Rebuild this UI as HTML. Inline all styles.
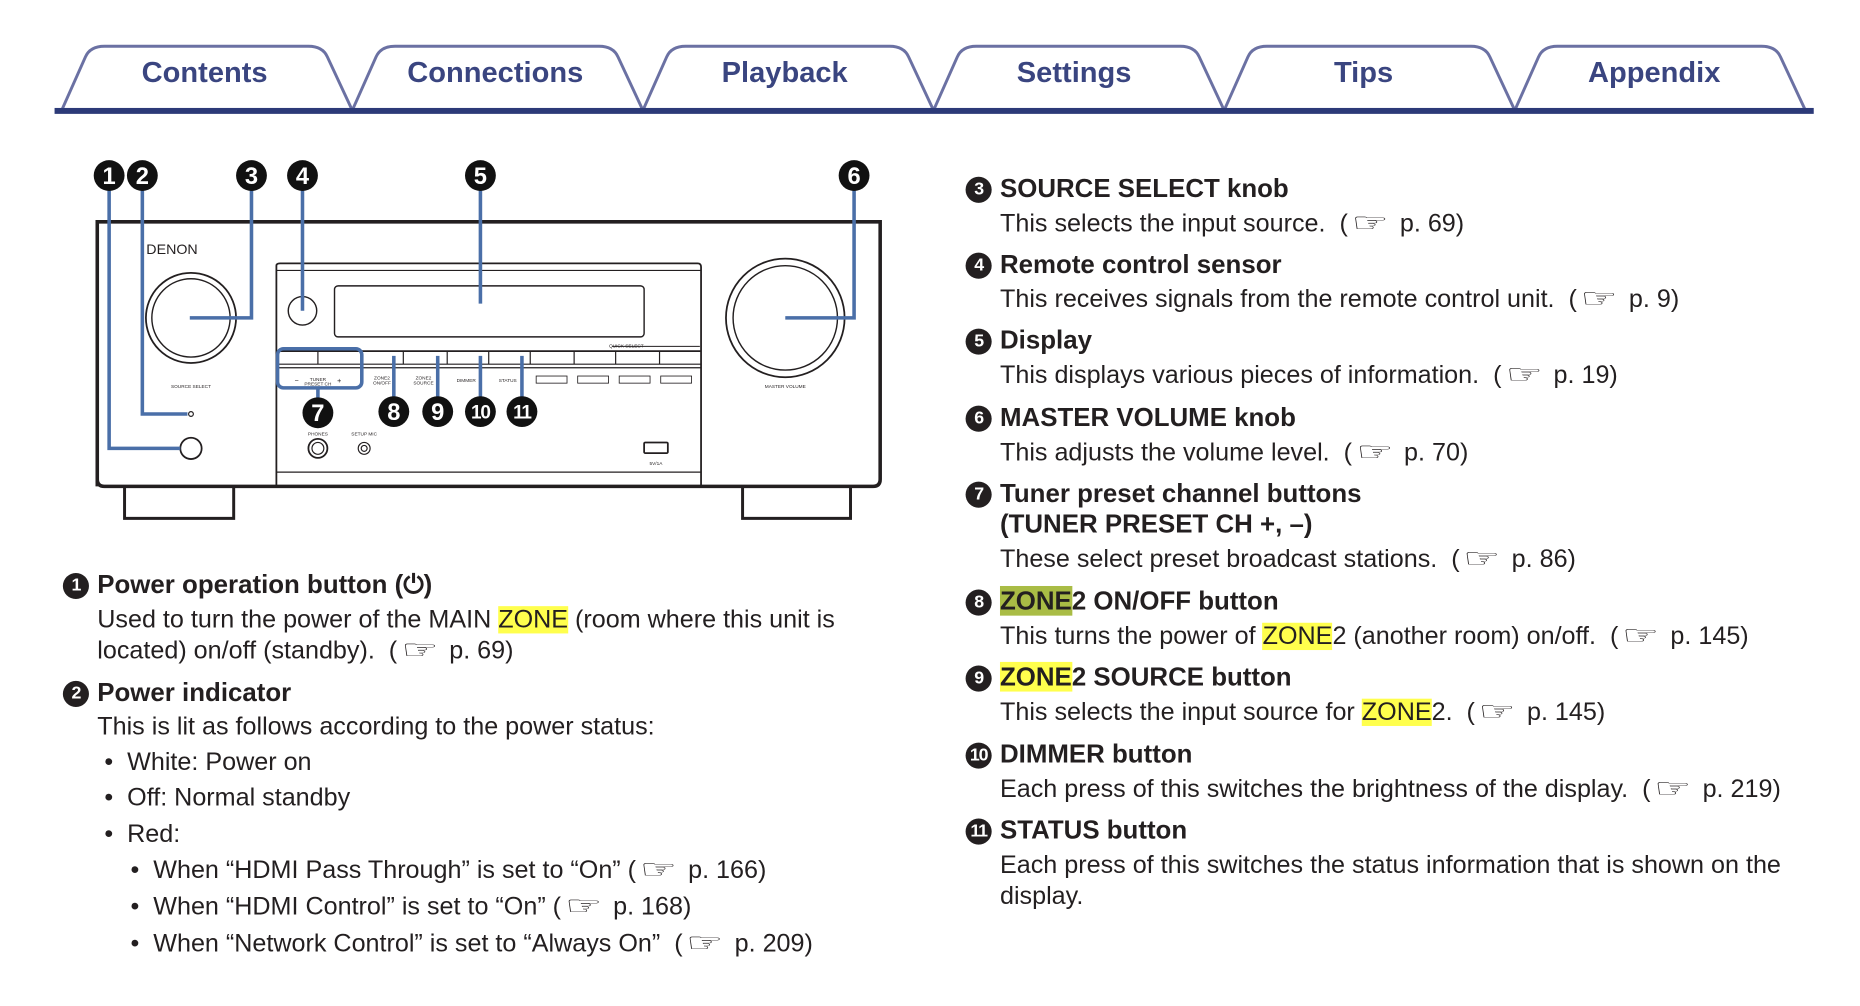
<!DOCTYPE html>
<html><head><meta charset="utf-8"><style>
html,body{margin:0;padding:0;background:#fff;width:1860px;height:1006px;overflow:hidden}
#w{position:absolute;left:0;top:0;width:1568px;height:848px;transform:scale(1.18622);transform-origin:0 0;font-family:"Liberation Sans",Arial,sans-serif;color:#231f20}
.t{position:absolute;white-space:nowrap;line-height:24px}
.h{font-weight:bold;font-size:21.8px}
.b{font-size:21.2px}
.n{position:absolute;width:22px;height:22px;border-radius:50%;background:#231f20;color:#fff;font-size:15px;font-weight:bold;line-height:22px;text-align:center;font-family:"Liberation Sans Narrow","Liberation Sans",sans-serif;letter-spacing:-1px}
.y{background:#ffff4d}
.g{background:#a9bc45}
.tab{position:absolute;top:48px;font-size:24.5px;font-weight:bold;color:#3a4580;width:245px;text-align:center}
.hand{font-family:"DejaVu Sans",sans-serif;font-size:22px;display:inline-block;width:38px;text-align:center;transform:scaleX(1.6);line-height:20px}
</style></head><body><div id="w">
<svg width="1568" height="848" style="position:absolute;left:0;top:0">
<g fill="none" stroke="#6b71a3" stroke-width="2.5">
<path d="M52 93 L72 48 Q76 39 88 39 L260 39 Q272 39 276 48 L297 93"/>
<path d="M297 93 L317 48 Q321 39 333 39 L505 39 Q517 39 521 48 L542 93"/>
<path d="M542 93 L562 48 Q566 39 578 39 L750 39 Q762 39 766 48 L787 93"/>
<path d="M787 93 L807 48 Q811 39 823 39 L995 39 Q1007 39 1011 48 L1032 93"/>
<path d="M1032 93 L1052 48 Q1056 39 1068 39 L1240 39 Q1252 39 1256 48 L1277 93"/>
<path d="M1277 93 L1297 48 Q1301 39 1313 39 L1485 39 Q1497 39 1501 48 L1522 93"/>
</g>
<rect x="46" y="91" width="1483" height="5" fill="#2c3a78"/>
<g fill="none" stroke="#231f20">
<path d="M82 410 L82 187 L742 187 L742 404 Q742 410 736 410 L88 410 Q82 410 82 404" stroke-width="3"/>
<path d="M105 410 V437 H197 V410 M626 410 V437 H717 V410" stroke-width="2.5"/>
<path d="M233 410 V224 Q233 222 236 222 L588 222 Q591 222 591 225 V410" stroke-width="1.5"/>
<line x1="233" y1="228" x2="591" y2="228" stroke-width="1"/>
<line x1="233" y1="398" x2="591" y2="398" stroke-width="1"/>
<circle cx="161" cy="268" r="38" stroke-width="1.5"/><circle cx="161" cy="268" r="33" stroke-width="1.2"/>
<circle cx="662" cy="268" r="50" stroke-width="1.5"/><circle cx="662" cy="268" r="44" stroke-width="1.2"/>
<rect x="282" y="241" width="261" height="43" rx="3" stroke-width="1.2"/>
<circle cx="255" cy="262" r="12" stroke-width="1.2"/>
<line x1="233" y1="296" x2="591" y2="296" stroke-width="1.5"/>
<line x1="233" y1="307" x2="591" y2="307" stroke-width="1"/>
<line x1="233" y1="310" x2="591" y2="310" stroke-width="1"/>
<line x1="516" y1="292" x2="590" y2="292" stroke-width="0.8"/>
<path d="M268 296V307M305 296V307M340 296V307M377 296V307M412 296V307M447 296V307M484 296V307M519 296V307M556 296V307" stroke-width="1"/>
<rect x="452" y="317" width="26" height="6" stroke-width="0.7"/><rect x="487" y="317" width="26" height="6" stroke-width="0.7"/><rect x="522" y="317" width="26" height="6" stroke-width="0.7"/><rect x="557" y="317" width="26" height="6" stroke-width="0.7"/>
<circle cx="161" cy="378" r="9" stroke-width="1.5"/>
<circle cx="161" cy="349" r="2" stroke-width="1"/>
<circle cx="268" cy="378" r="8" stroke-width="1.5"/><circle cx="268" cy="378" r="5" stroke-width="1"/>
<circle cx="307" cy="378" r="5" stroke-width="1"/><circle cx="307" cy="378" r="2.5" stroke-width="1"/>
<rect x="543" y="373" width="20" height="9" rx="1" stroke-width="1.5"/>
</g>
<g font-family="Liberation Sans" font-size="4" fill="#231f20" text-anchor="middle">
<text x="161" y="327">SOURCE SELECT</text><text x="662" y="327">MASTER VOLUME</text>
<text x="268" y="321">TUNER</text><text x="268" y="325">PRESET CH</text><text x="250" y="323" font-size="6">−</text><text x="286" y="323" font-size="6">+</text>
<text x="322" y="320">ZONE2</text><text x="322" y="324">ON/OFF</text><text x="357" y="320">ZONE2</text><text x="357" y="324">SOURCE</text>
<text x="393" y="322">DIMMER</text><text x="428" y="322">STATUS</text><text x="528" y="293">QUICK SELECT</text>
<text x="268" y="367">PHONES</text><text x="307" y="367">SETUP MIC</text><text x="553" y="392">5V/1A</text>
<text x="145" y="214" font-size="12" text-anchor="middle">DENON</text>
</g>
<g fill="none" stroke="#4a6fa8" stroke-width="3">
<path d="M92 160 V378 H152"/><path d="M120 160 V349 H158"/><path d="M212 160 V268 H160"/>
<path d="M255 160 V262"/><path d="M405 160 V256"/><path d="M720 160 V268 H662"/>
<rect x="234" y="294" width="71" height="33" rx="5"/>
<path d="M268 327V336M332 300V336M369 300V336M405 300V336M440 300V336"/>
</g>
<g font-family="Liberation Sans" font-weight="bold" fill="#fff" text-anchor="middle" font-size="20">
<circle cx="92" cy="148" r="13" fill="#111"/><text x="92" y="155">1</text>
<circle cx="120" cy="148" r="13" fill="#111"/><text x="120" y="155">2</text>
<circle cx="212" cy="148" r="13" fill="#111"/><text x="212" y="155">3</text>
<circle cx="255" cy="148" r="13" fill="#111"/><text x="255" y="155">4</text>
<circle cx="405" cy="148" r="13" fill="#111"/><text x="405" y="155">5</text>
<circle cx="720" cy="148" r="13" fill="#111"/><text x="720" y="155">6</text>
<circle cx="268" cy="348" r="13" fill="#111"/><text x="268" y="355">7</text>
<circle cx="332" cy="347" r="13" fill="#111"/><text x="332" y="354">8</text>
<circle cx="369" cy="347" r="13" fill="#111"/><text x="369" y="354">9</text>
<circle cx="405" cy="347" r="13" fill="#111"/><text x="405" y="353" font-size="16" letter-spacing="-1">10</text>
<circle cx="440" cy="347" r="13" fill="#111"/><text x="440" y="353" font-size="16" letter-spacing="-1">11</text>
</g>
</svg>
<div class="tab" style="left:50px">Contents</div><div class="tab" style="left:295px">Connections</div><div class="tab" style="left:539px">Playback</div><div class="tab" style="left:783px">Settings</div><div class="tab" style="left:1027px">Tips</div><div class="tab" style="left:1272px">Appendix</div>

<div class="n" style="left:53px;top:483px">1</div><div class="t h" style="left:82px;top:481px">Power operation button (⏻)</div>
<div class="t b" style="left:82px;top:511px">Used to turn the power of the MAIN <span class="y">ZONE</span> (room where this unit is</div>
<div class="t b" style="left:82px;top:537px">located) on/off (standby).&nbsp; (<span class="hand">☞</span> p. 69)</div>
<div class="n" style="left:53px;top:574px">2</div><div class="t h" style="left:82px;top:572px">Power indicator</div>
<div class="t b" style="left:82px;top:601px">This is lit as follows according to the power status:</div>
<div class="t b" style="left:88px;top:631px">•&nbsp; White: Power on</div>
<div class="t b" style="left:88px;top:661px">•&nbsp; Off: Normal standby</div>
<div class="t b" style="left:88px;top:692px">•&nbsp; Red:</div>
<div class="t b" style="left:110px;top:722px">•&nbsp; When “HDMI Pass Through” is set to “On” (<span class="hand">☞</span> p. 166)</div>
<div class="t b" style="left:110px;top:753px">•&nbsp; When “HDMI Control” is set to “On” (<span class="hand">☞</span> p. 168)</div>
<div class="t b" style="left:110px;top:784px">•&nbsp; When “Network Control” is set to “Always On”&nbsp; (<span class="hand">☞</span> p. 209)</div>

<div class="n" style="left:814px;top:149px">3</div><div class="t h" style="left:843px;top:147px">SOURCE SELECT knob</div>
<div class="t b" style="left:843px;top:177px">This selects the input source.&nbsp; (<span class="hand">☞</span> p. 69)</div>
<div class="n" style="left:814px;top:213px">4</div><div class="t h" style="left:843px;top:211px">Remote control sensor</div>
<div class="t b" style="left:843px;top:241px">This receives signals from the remote control unit.&nbsp; (<span class="hand">☞</span> p. 9)</div>
<div class="n" style="left:814px;top:277px">5</div><div class="t h" style="left:843px;top:275px">Display</div>
<div class="t b" style="left:843px;top:305px">This displays various pieces of information.&nbsp; (<span class="hand">☞</span> p. 19)</div>
<div class="n" style="left:814px;top:342px">6</div><div class="t h" style="left:843px;top:340px">MASTER VOLUME knob</div>
<div class="t b" style="left:843px;top:370px">This adjusts the volume level.&nbsp; (<span class="hand">☞</span> p. 70)</div>
<div class="n" style="left:814px;top:406px">7</div><div class="t h" style="left:843px;top:404px">Tuner preset channel buttons</div>
<div class="t h" style="left:843px;top:430px">(TUNER PRESET CH +, –)</div>
<div class="t b" style="left:843px;top:460px">These select preset broadcast stations.&nbsp; (<span class="hand">☞</span> p. 86)</div>
<div class="n" style="left:814px;top:497px">8</div><div class="t h" style="left:843px;top:495px"><span class="g">ZONE</span>2 ON/OFF button</div>
<div class="t b" style="left:843px;top:525px">This turns the power of <span class="y">ZONE</span>2 (another room) on/off.&nbsp; (<span class="hand">☞</span> p. 145)</div>
<div class="n" style="left:814px;top:561px">9</div><div class="t h" style="left:843px;top:559px"><span class="y">ZONE</span>2 SOURCE button</div>
<div class="t b" style="left:843px;top:589px">This selects the input source for <span class="y">ZONE</span>2.&nbsp; (<span class="hand">☞</span> p. 145)</div>
<div class="n" style="left:814px;top:626px">10</div><div class="t h" style="left:843px;top:624px">DIMMER button</div>
<div class="t b" style="left:843px;top:654px">Each press of this switches the brightness of the display.&nbsp; (<span class="hand">☞</span> p. 219)</div>
<div class="n" style="left:814px;top:690px">11</div><div class="t h" style="left:843px;top:688px">STATUS button</div>
<div class="t b" style="left:843px;top:718px">Each press of this switches the status information that is shown on the</div>
<div class="t b" style="left:843px;top:744px">display.</div>
</div></body></html>
